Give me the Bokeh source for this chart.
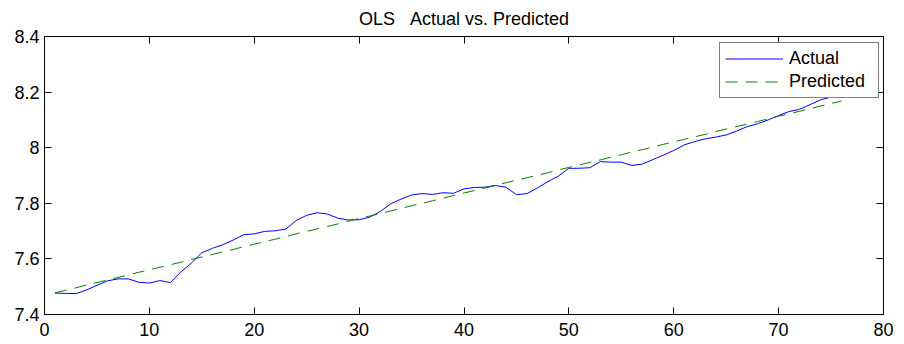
from bokeh.plotting import figure
from bokeh.models import Range1d, FixedTicker, LinearAxis, Legend, LegendItem
from bokeh.embed import file_html
from bokeh.resources import INLINE

# ---- data ----
t = list(range(1, 77))
actual = [7.477, 7.476, 7.475, 7.488, 7.505, 7.521, 7.528, 7.528, 7.516, 7.513,
          7.522, 7.515, 7.553, 7.585, 7.622, 7.638, 7.651, 7.668, 7.687, 7.690,
          7.699, 7.701, 7.707, 7.738, 7.757, 7.766, 7.761, 7.746, 7.740, 7.741,
          7.750, 7.770, 7.798, 7.815, 7.830, 7.835, 7.832, 7.838, 7.836, 7.852,
          7.857, 7.858, 7.864, 7.858, 7.831, 7.835, 7.855, 7.878, 7.898, 7.926,
          7.926, 7.928, 7.950, 7.948, 7.948, 7.936, 7.941, 7.957, 7.973, 7.990,
          8.010, 8.022, 8.032, 8.038, 8.046, 8.060, 8.076, 8.086, 8.100, 8.116,
          8.130, 8.138, 8.155, 8.172, 8.182, 8.190]
predicted = [7.478, 7.487, 7.496, 7.506, 7.515, 7.524, 7.533, 7.542, 7.552, 7.561,
             7.570, 7.579, 7.588, 7.598, 7.607, 7.616, 7.625, 7.634, 7.644, 7.653,
             7.662, 7.671, 7.680, 7.690, 7.699, 7.708, 7.717, 7.726, 7.736, 7.745,
             7.754, 7.763, 7.772, 7.782, 7.791, 7.800, 7.809, 7.818, 7.828, 7.837,
             7.846, 7.855, 7.864, 7.874, 7.883, 7.892, 7.901, 7.910, 7.920, 7.929,
             7.938, 7.947, 7.956, 7.966, 7.975, 7.984, 7.993, 8.002, 8.012, 8.021,
             8.030, 8.039, 8.048, 8.058, 8.067, 8.076, 8.085, 8.094, 8.104, 8.113,
             8.122, 8.131, 8.140, 8.150, 8.159, 8.168]
x_ticks = [0, 10, 20, 30, 40, 50, 60, 70, 80]
y_ticks = [7.4, 7.6, 7.8, 8.0, 8.2, 8.4]
y_tick_labels = ["7.4", "7.6", "7.8", "8", "8.2", "8.4"]
title_text = "OLS\u00a0\u00a0\u00a0Actual vs. Predicted"
series_names = ["Actual", "Predicted"]

FONT = "Liberation Sans"
FS = "18px"

p = figure(width=904, height=344, output_backend="svg", toolbar_location=None,
           x_range=Range1d(0, 80), y_range=Range1d(7.4, 8.4),
           min_border_left=44, min_border_right=21, min_border_top=36, min_border_bottom=30,
           x_axis_type=None, y_axis_type=None)
p.background_fill_color = "white"
p.border_fill_color = "white"
p.outline_line_color = "black"
p.outline_line_width = 1
p.xgrid.visible = False
p.ygrid.visible = False

p.title.text = title_text
p.title.align = "center"
p.title.vertical_align = "top"
p.title.text_font = FONT
p.title.text_font_size = FS
p.title.text_font_style = "normal"
p.title.text_color = "black"
p.title.standoff = 12
p.title.offset = 0


def style_axis(ax, labels=True):
    ax.axis_line_color = "black"
    ax.major_tick_in = 7
    ax.major_tick_out = 0
    ax.major_tick_line_color = "black"
    ax.minor_tick_line_color = None
    ax.major_label_text_font = FONT
    if labels:
        ax.major_label_text_font_size = FS
        ax.major_label_text_color = "black"
        ax.major_label_standoff = 8
    else:
        ax.major_label_text_font_size = "1px"
        ax.major_label_text_color = None
        ax.major_label_standoff = 0


xb = LinearAxis(ticker=FixedTicker(ticks=x_ticks))
style_axis(xb)
p.add_layout(xb, "below")
xa = LinearAxis(ticker=FixedTicker(ticks=x_ticks))
style_axis(xa, labels=False)
p.add_layout(xa, "above")

yl = LinearAxis(ticker=FixedTicker(ticks=y_ticks))
style_axis(yl)
yl.major_label_standoff = 5
yl.major_label_overrides = {v: s for v, s in zip(y_ticks, y_tick_labels)}
p.add_layout(yl, "left")
yr = LinearAxis(ticker=FixedTicker(ticks=y_ticks))
style_axis(yr, labels=False)
p.add_layout(yr, "right")

r1 = p.line(t, actual, line_color="#0000FF", line_width=1)
r2 = p.line(t, predicted, line_color="#008000", line_width=1, line_dash="12 8")

leg = Legend(items=[LegendItem(label=series_names[0], renderers=[r1]),
                    LegendItem(label=series_names[1], renderers=[r2])],
             location=(675, 216))
leg.label_text_font = FONT
leg.label_text_font_size = "18px"
leg.label_text_color = "black"
leg.border_line_color = "black"
leg.border_line_width = 1
leg.background_fill_color = "white"
leg.background_fill_alpha = 1
leg.glyph_width = 58
leg.glyph_height = 17
leg.label_height = 17
leg.label_width = 84
leg.label_standoff = 6
leg.spacing = 2
leg.padding = 5
leg.margin = 0
p.add_layout(leg, "center")

open("out.html", "w").write(file_html(p, INLINE))
